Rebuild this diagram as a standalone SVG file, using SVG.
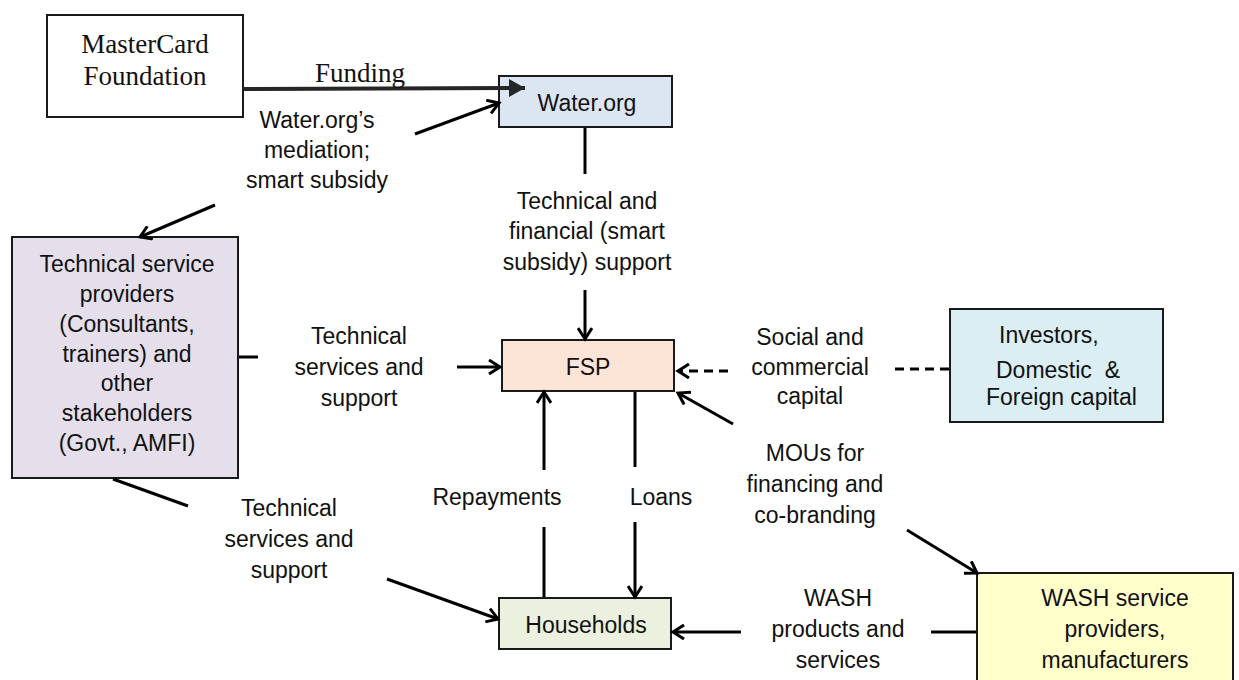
<svg xmlns="http://www.w3.org/2000/svg" width="1239" height="680" viewBox="0 0 1239 680">
<style>
.box{stroke:#1a1a1a;stroke-width:2}
.t{font-family:"Liberation Sans",Arial,sans-serif;font-size:23px;fill:#111;text-anchor:middle}
.s{font-family:"Liberation Serif","Times New Roman",serif;font-size:27px;fill:#111;text-anchor:middle}
.ln{stroke:#000;stroke-width:3;fill:none}
.dl{stroke:#000;stroke-width:3;fill:none;stroke-dasharray:9 6}
</style>
<defs>
<marker id="open" markerWidth="16" markerHeight="16" refX="13" refY="8" orient="auto" markerUnits="userSpaceOnUse">
<path d="M2,1 L13,8 L2,15" fill="none" stroke="#000" stroke-width="3"/>
</marker>
<marker id="fill" markerWidth="18" markerHeight="20" refX="16" refY="10" orient="auto" markerUnits="userSpaceOnUse">
<path d="M0,1 L16,10 L0,19 Z" fill="#262626"/>
</marker>
</defs>
<rect width="1239" height="680" fill="#fff"/>

<g id="mastercard">
<rect class="box" x="47" y="15" width="196" height="102" fill="#fff"/>
<text class="s" x="145" y="53">MasterCard</text>
<text class="s" x="145" y="85">Foundation</text>
</g>

<g id="waterorg">
<rect class="box" x="499" y="76" width="173" height="51" fill="#dce6f2"/>
<text class="t" x="587" y="111">Water.org</text>
</g>

<g id="tech">
<rect class="box" x="12" y="237" width="226" height="241" fill="#e5dfec"/>
<text class="t" x="127" y="272">Technical service</text>
<text class="t" x="127" y="302">providers</text>
<text class="t" x="127" y="332">(Consultants,</text>
<text class="t" x="127" y="362">trainers) and</text>
<text class="t" x="127" y="391">other</text>
<text class="t" x="127" y="421">stakeholders</text>
<text class="t" x="127" y="451">(Govt., AMFI)</text>
</g>

<g id="fsp">
<rect class="box" x="502" y="340" width="172" height="51" fill="#fce4d6"/>
<text class="t" x="588" y="375">FSP</text>
</g>

<g id="investors">
<rect class="box" x="950" y="309" width="213" height="113" fill="#daeef3"/>
<text class="t" x="999" y="343" style="text-anchor:start">Investors,</text>
<text class="t" x="996" y="378" style="text-anchor:start" xml:space="preserve">Domestic  &amp;</text>
<text class="t" x="986" y="405" style="text-anchor:start">Foreign capital</text>
</g>

<g id="households">
<rect class="box" x="499" y="598" width="172" height="51" fill="#ebf1de"/>
<text class="t" x="586" y="633">Households</text>
</g>

<g id="wash">
<rect class="box" x="977" y="573" width="256" height="120" fill="#ffffcc"/>
<text class="t" x="1115" y="606">WASH service</text>
<text class="t" x="1115" y="637">providers,</text>
<text class="t" x="1115" y="668">manufacturers</text>
</g>

<g id="connectors">
<line x1="243" y1="89" x2="525" y2="88" stroke="#262626" stroke-width="4" marker-end="url(#fill)"/>
<line class="ln" x1="415" y1="134" x2="499" y2="103" marker-end="url(#open)"/>
<line class="ln" x1="215" y1="205" x2="140" y2="237" marker-end="url(#open)"/>
<line class="ln" x1="585" y1="128" x2="585" y2="174"/>
<line class="ln" x1="585" y1="290" x2="585" y2="339" marker-end="url(#open)"/>
<line class="ln" x1="239" y1="357" x2="258" y2="357"/>
<line class="ln" x1="457" y1="367" x2="500" y2="367" marker-end="url(#open)"/>
<line class="ln" x1="113" y1="479" x2="188" y2="506"/>
<line class="ln" x1="387" y1="579" x2="498" y2="619" marker-end="url(#open)"/>
<line class="dl" x1="949" y1="369" x2="890" y2="369"/>
<line class="dl" x1="728" y1="371" x2="678" y2="371" marker-end="url(#open)"/>
<line class="ln" x1="733" y1="424" x2="678" y2="393" marker-end="url(#open)"/>
<line class="ln" x1="907" y1="530" x2="977" y2="573" marker-end="url(#open)"/>
<line class="ln" x1="544" y1="597" x2="544" y2="527"/>
<line class="ln" x1="544" y1="470" x2="544" y2="392" marker-end="url(#open)"/>
<line class="ln" x1="635" y1="392" x2="635" y2="467"/>
<line class="ln" x1="635" y1="522" x2="635" y2="597" marker-end="url(#open)"/>
<line class="ln" x1="976" y1="632" x2="931" y2="632"/>
<line class="ln" x1="741" y1="632" x2="673" y2="632" marker-end="url(#open)"/>
</g>

<g id="labels">
<text class="s" x="360" y="82">Funding</text>
<text class="t" x="317" y="128">Water.org’s</text>
<text class="t" x="317" y="158">mediation;</text>
<text class="t" x="317" y="188">smart subsidy</text>
<text class="t" x="587" y="209">Technical and</text>
<text class="t" x="587" y="239">financial (smart</text>
<text class="t" x="587" y="270">subsidy) support</text>
<text class="t" x="359" y="344">Technical</text>
<text class="t" x="359" y="375">services and</text>
<text class="t" x="359" y="406">support</text>
<text class="t" x="289" y="516">Technical</text>
<text class="t" x="289" y="547">services and</text>
<text class="t" x="289" y="578">support</text>
<text class="t" x="810" y="345">Social and</text>
<text class="t" x="810" y="375">commercial</text>
<text class="t" x="810" y="404">capital</text>
<text class="t" x="815" y="461">MOUs for</text>
<text class="t" x="815" y="492">financing and</text>
<text class="t" x="815" y="523">co-branding</text>
<text class="t" x="497" y="505">Repayments</text>
<text class="t" x="661" y="505">Loans</text>
<text class="t" x="838" y="606">WASH</text>
<text class="t" x="838" y="637">products and</text>
<text class="t" x="838" y="668">services</text>
</g>
</svg>
